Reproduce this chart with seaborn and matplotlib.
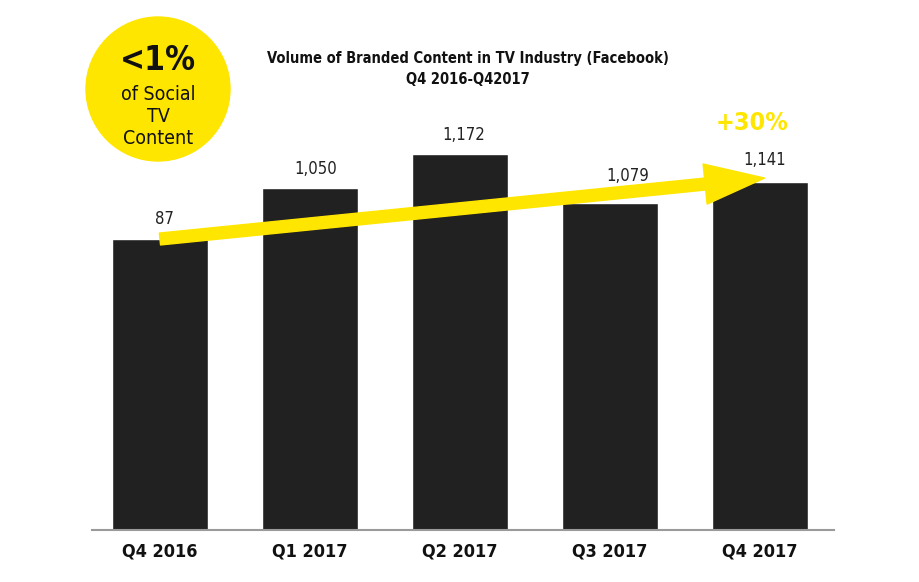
import matplotlib
matplotlib.use("Agg")
import matplotlib.pyplot as plt
from matplotlib.patches import Ellipse
import seaborn as sns
import pandas as pd

quarters = ["Q4 2016", "Q1 2017", "Q2 2017", "Q3 2017", "Q4 2017"]
bar_heights = [907, 1066, 1172, 1019, 1085]      # heights as drawn in the picture
value_labels = ["87", "1,050", "1,172", "1,079", "1,141"]
title_lines = ["Volume of Branded Content in TV Industry (Facebook)", "Q4 2016-Q42017"]
growth_label = "+30%"
badge_big = "<1%"
badge_small = ["of Social", "TV", "Content"]

# label placement (points above bar top), styling only
label_dy = [8, 7, 7, 13, 9]
label_dx = [3, 4, 3, 13, 3]

YELLOW = "#FFE600"
BAR = "#212121"

sns.set_theme(style="white")
plt.rcParams["font.family"] = ["DejaVu Sans"]
plt.rcParams["font.stretch"] = "condensed"

df = pd.DataFrame({"quarter": quarters, "value": bar_heights})

W, H = 919, 582
fig = plt.figure(figsize=(W / 100, H / 100), dpi=100)
ax = fig.add_axes([92 / W, 52 / H, (834 - 92) / W, 530 / H])
ax.patch.set_visible(False)

sns.barplot(data=df, x="quarter", y="value", color=BAR, width=0.64,
            saturation=1, ax=ax, zorder=2)

ymax = 530 / 376 * 1172
ax.set_ylim(0, ymax)
ax.set_xlim(-0.453, 4.493)

for s in ["top", "right", "left"]:
    ax.spines[s].set_visible(False)
ax.spines["bottom"].set_color("#9a9a9a")
ax.spines["bottom"].set_linewidth(1.5)
ax.set_yticks([])
ax.set_xlabel("")
ax.set_ylabel("")
ax.tick_params(axis="x", length=0, pad=9)
for t in ax.get_xticklabels():
    t.set_fontsize(13)
    t.set_fontweight("bold")
    t.set_color("#111111")
    t.set_fontstretch("condensed")

for i, (h, lab) in enumerate(zip(bar_heights, value_labels)):
    ax.annotate(lab, (i, h), xytext=(label_dx[i], label_dy[i]), textcoords="offset points",
                ha="center", va="bottom", fontsize=12, color="#222222")

# trend arrow from first bar top to last bar top
ax.annotate("", xy=(4.03, bar_heights[-1] + 12), xytext=(0, bar_heights[0]),
            arrowprops=dict(arrowstyle="simple,head_length=4.3,head_width=2.9,tail_width=0.86",
                            color=YELLOW, shrinkA=0, shrinkB=0, mutation_scale=10),
            zorder=5)
ax.text(3.95, bar_heights[-1] + 0.112 * ymax, growth_label, color=YELLOW,
        fontsize=18, fontweight="bold", ha="center", va="center")

# title
fig.text(468 / W, 1 - 58 / H, title_lines[0], ha="center", va="center",
         fontsize=10.5, fontweight="bold", color="#111111")
fig.text(468 / W, 1 - 80 / H, title_lines[1], ha="center", va="center",
         fontsize=10.5, fontweight="bold", color="#111111")

# badge
fig.add_artist(Ellipse((158 / W, 1 - 89 / H), 144 / W, 144 / H,
                       transform=fig.transFigure, color=YELLOW, zorder=0))
fig.text(158 / W, 1 - 60 / H, badge_big, ha="center", va="center",
         fontsize=24, fontweight="bold", color="#111111")
for txt, y in zip(badge_small, [95, 117, 139]):
    fig.text(158 / W, 1 - y / H, txt, ha="center", va="center",
             fontsize=14, color="#111111")

fig.savefig("out.png", dpi=100, facecolor="white")
